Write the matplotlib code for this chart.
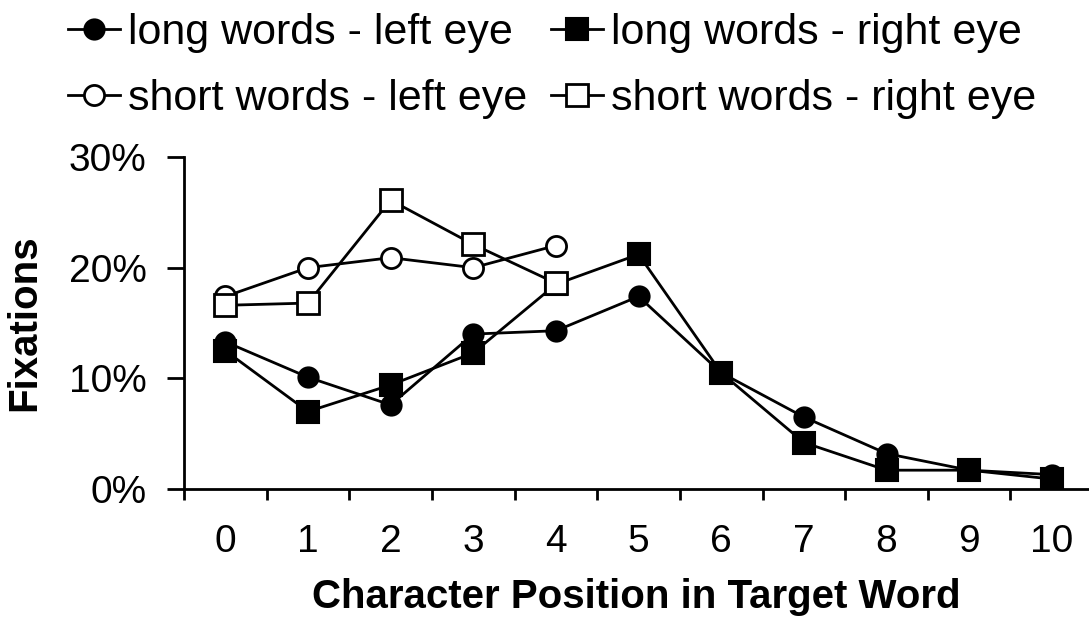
import numpy as np
import matplotlib
matplotlib.use("Agg")
import matplotlib.pyplot as plt

# data (percent of fixations)
positions = list(range(11))
long_left = [13.3, 10.1, 7.6, 14.0, 14.3, 17.4, 10.5, 6.5, 3.2, 1.7, 1.3]
long_right = [12.5, 7.0, 9.4, 12.3, 18.5, 21.2, 10.5, 4.2, 1.7, 1.7, 0.9]
short_pos = list(range(5))
short_left = [17.4, 20.0, 20.9, 20.0, 22.0]
short_right = [16.6, 16.8, 26.1, 22.1, 18.6]

plt.rcParams['font.family'] = ['Liberation Sans', 'DejaVu Sans']

fig = plt.figure(figsize=(10.89, 6.21), dpi=100)
ax = fig.add_axes([184/1089, 1 - 489/621, 1 - 184/1089, (489 - 157)/621])

lw = 2
l1, = ax.plot(positions, np.array(long_left)/100, color='black', lw=lw, marker='o',
              ms=14.5, mfc='black', mec='black', mew=1.5, label='long words - left eye')
l2, = ax.plot(positions, np.array(long_right)/100, color='black', lw=lw, marker='s',
              ms=15.5, mfc='black', mec='black', mew=1.5, label='long words - right eye')
l3, = ax.plot(short_pos, np.array(short_left)/100, color='black', lw=lw, marker='o',
              ms=14.5, mfc='white', mec='black', mew=2, label='short words - left eye')
l4, = ax.plot(short_pos, np.array(short_right)/100, color='black', lw=lw, marker='s',
              ms=15.5, mfc='white', mec='black', mew=2, label='short words - right eye')

ax.set_xlim(-0.5, 10.45)
ax.set_ylim(0, 0.30)
ax.set_yticks([0, 0.1, 0.2, 0.3])
ax.set_yticklabels(['0%', '10%', '20%', '30%'])
ax.set_xticks(positions)
ax.set_xticks(np.arange(-0.5, 10, 1), minor=True)
ax.tick_params(axis='x', which='major', length=0, pad=25, labelsize=28)
ax.tick_params(axis='x', which='minor', length=8, width=2, direction='out')
ax.tick_params(axis='y', length=12, width=2, direction='out', pad=15, labelsize=28)

for s in ['top', 'right']:
    ax.spines[s].set_visible(False)
for s in ['left', 'bottom']:
    ax.spines[s].set_linewidth(2)

ax.set_xlabel('Character Position in Target Word', fontsize=29, fontweight='bold', labelpad=13)
ax.set_ylabel('Fixations', fontsize=29, fontweight='bold', labelpad=18)

fig.legend(handles=[l1, l3, l2, l4], ncol=2, loc='upper left', bbox_to_anchor=(68/1089, 0.979),
           frameon=False, fontsize=31, handlelength=1.2, handletextpad=0.2,
           columnspacing=0.55, labelspacing=0.6, borderpad=0, borderaxespad=0, markerscale=1)

fig.savefig('out.png', dpi=100)
